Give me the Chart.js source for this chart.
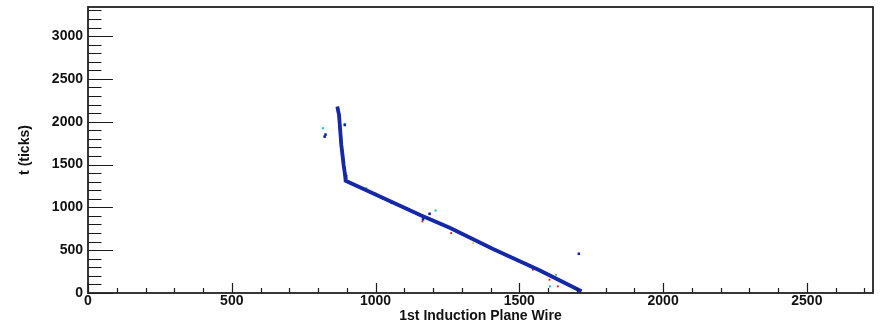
<!DOCTYPE html>
<html>
<head>
<meta charset="utf-8">
<script src="https://cdn.jsdelivr.net/npm/chart.js@4"></script>
<style>
  html, body { margin: 0; padding: 0; background: #fff; }
  #wrap { width: 884px; height: 331px; position: relative; }
</style>
</head>
<body>
<div id="wrap"><canvas id="c" width="884" height="331"></canvas></div>
<script>
// ---- axis ranges / labels ----
const xTitle = '1st Induction Plane Wire';
const yTitle = 't (ticks)';
const xMin = 0, xMax = 2730;
const yMin = 0, yMax = 3340;
const xTickValues = [0, 500, 1000, 1500, 2000, 2500];
const yTickValues = [0, 500, 1000, 1500, 2000, 2500, 3000];

// ---- main track (wire, tick) vertices ----
const trackWire = [867, 873, 881, 889, 894, 896, 1157, 1258, 1407, 1570, 1716];
const trackTick = [2176, 2079, 1729, 1496, 1379, 1310, 907, 761, 516, 266, 21];

// ---- individual coloured hits ----
const redWire  = [873, 879, 883, 886, 893, 928, 1055, 1163, 1263, 1547, 1605, 1634];
const redTick  = [2059, 1865, 1709, 1592, 1418, 1254, 1049, 835, 700, 272, 155, 77];
const yellowWire = [870, 1339, 1000, 1440];
const yellowTick = [2120, 583, 1170, 470];
const greenWire = [968, 1628, 1110, 1500];
const greenTick = [1224, 213, 990, 370];
const cyanWire = [817, 1209, 1607, 893];
const cyanTick = [1924, 963, 77, 1975];
const blueWire = [823, 826, 893, 1188, 1707, 1165];
const blueTick = [1826, 1850, 1962, 925, 458, 860];

const toPts = (xs, ys) => xs.map((v, i) => ({ x: v, y: ys[i] }));

const rootTicks = {
  id: 'rootTicks',
  afterDraw(chart) {
    const { ctx, chartArea: a, scales: { x, y } } = chart;
    ctx.save();
    ctx.strokeStyle = '#1a1a1a';
    ctx.lineWidth = 1.2;
    ctx.beginPath();
    for (let v = 0; v <= xMax; v += 100) {
      const p = Math.round(x.getPixelForValue(v)) + 0.5;
      const len = v % 500 === 0 ? 10 : 5;
      ctx.moveTo(p, a.bottom);
      ctx.lineTo(p, a.bottom - len);
    }
    for (let v = 0; v <= yMax; v += 100) {
      const p = Math.round(y.getPixelForValue(v)) + 0.5;
      const len = v % 500 === 0 ? 25 : 13.5;
      ctx.moveTo(a.left, p);
      ctx.lineTo(a.left + len, p);
    }
    ctx.stroke();
    ctx.lineWidth = 1.8;
    ctx.strokeStyle = '#222';
    ctx.strokeRect(a.left, a.top, a.right - a.left, a.bottom - a.top);
    ctx.restore();
  }
};

const hitDs = (xs, ys, col, r) => ({
  type: 'scatter',
  data: toPts(xs, ys),
  pointStyle: 'rect',
  pointRadius: r,
  pointBackgroundColor: col,
  pointBorderWidth: 0,
  showLine: false
});

const tickFont = { family: 'Liberation Sans', size: 14, weight: 'bold' };

new Chart(document.getElementById('c'), {
  type: 'scatter',
  data: {
    datasets: [
      {
        data: toPts(trackWire, trackTick),
        showLine: true,
        borderColor: '#1428a8',
        borderWidth: 3.8,
        pointRadius: 0,
        tension: 0
      },
      {
        data: toPts(trackWire, trackTick),
        showLine: true,
        borderColor: '#000070',
        borderWidth: 2.6,
        pointRadius: 0,
        tension: 0
      },
      hitDs(blueWire, blueTick, '#1020b0', 1.8),
      hitDs(cyanWire, cyanTick, '#20c0e0', 1.5),
      hitDs(greenWire, greenTick, '#30c830', 1.3),
      hitDs(yellowWire, yellowTick, '#f0d020', 1.3),
      hitDs(redWire, redTick, '#e02010', 1.3)
    ]
  },
  options: {
    responsive: false,
    animation: false,
    events: [],
    layout: { padding: { top: 7, right: 11, bottom: 0, left: 0 } },
    plugins: { legend: { display: false }, tooltip: { enabled: false } },
    scales: {
      x: {
        type: 'linear',
        min: xMin, max: xMax,
        grid: { display: false, drawTicks: false },
        border: { display: false },
        afterBuildTicks: (s) => { s.ticks = xTickValues.map(v => ({ value: v })); },
        afterFit: (s) => { s.height = 38; s.paddingLeft = 0; s.paddingRight = 0; },
        ticks: {
          autoSkip: false, maxRotation: 0, padding: 0, color: '#111',
          callback: (v) => String(v),
          font: tickFont
        },
        title: {
          display: true, text: xTitle, color: '#111',
          padding: { top: 0, bottom: 6.5 },
          font: tickFont
        }
      },
      y: {
        type: 'linear',
        min: yMin, max: yMax,
        grid: { display: false, drawTicks: false },
        border: { display: false },
        afterBuildTicks: (s) => { s.ticks = yTickValues.map(v => ({ value: v })); },
        afterFit: (s) => { s.width = 88; s.paddingTop = 0; s.paddingBottom = 0; },
        ticks: {
          autoSkip: false, padding: 5, color: '#111',
          callback: (v) => String(v),
          font: tickFont
        },
        title: {
          display: true, text: yTitle, color: '#111',
          padding: { top: 16.5, bottom: 0 },
          font: tickFont
        }
      }
    }
  },
  plugins: [rootTicks]
});
</script>
</body>
</html>
